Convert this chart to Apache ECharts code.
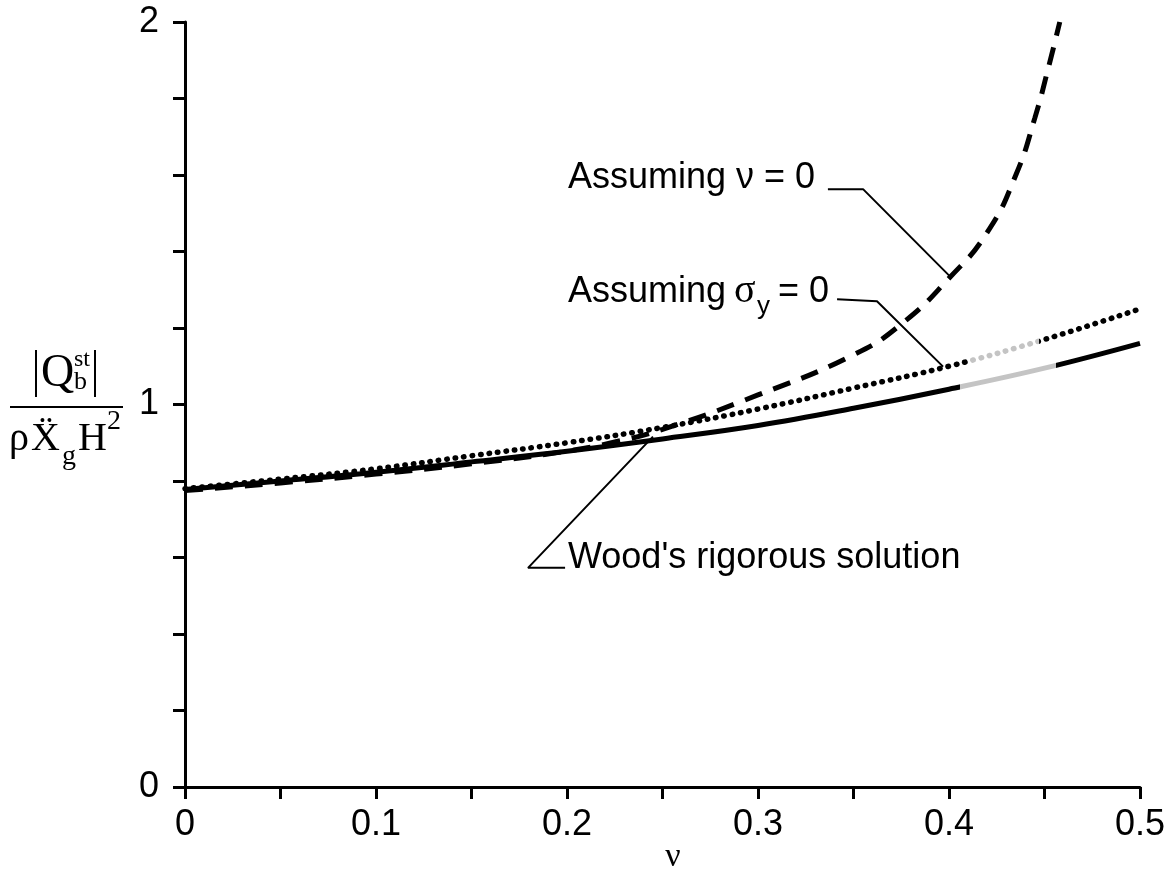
<!DOCTYPE html>
<html>
<head>
<meta charset="utf-8">
<title>Q_b^st vs nu</title>
<script src="https://cdn.jsdelivr.net/npm/echarts@6/dist/echarts.min.js"></script>
<style>
  html, body { margin: 0; background: #fff; }
  #chart { width: 1174px; height: 873px; }
</style>
</head>
<body>
<div id="chart"></div>
<script>
  // values
  var nuGrid = [0, 0.05, 0.1, 0.15, 0.2, 0.25, 0.3, 0.35, 0.4, 0.45, 0.5];
  var woodVals = [0.778, 0.800, 0.823, 0.850, 0.878, 0.910, 0.945, 0.990, 1.040, 1.095, 1.160];
  var sigmaVals = [0.780, 0.805, 0.832, 0.866, 0.900, 0.940, 0.988, 1.043, 1.100, 1.170, 1.250];

  var nuZeroX = [0, 0.05, 0.1, 0.15, 0.2, 0.225, 0.25, 0.3, 0.35, 0.375, 0.4, 0.42, 0.435, 0.445, 0.452, 0.458];
  var nuZeroVals = [0.775, 0.795, 0.818, 0.845, 0.878, 0.902, 0.935, 1.025, 1.130, 1.210, 1.330, 1.450, 1.600, 1.750, 1.880, 2.000];

  // leader lines of the labels (data units)
  var leaderNuZero = [[0.3366, 1.563], [0.355, 1.563], [0.4005, 1.335]];
  var leaderSigma = [[0.3414, 1.275], [0.3623, 1.270], [0.3969, 1.099]];
  var leaderWood = [[0.245, 0.916], [0.1796, 0.573], [0.199, 0.573]];

  function zip(xs, ys) {
    return xs.map(function (x, i) { return [x, ys[i]]; });
  }

  var sans = 'Liberation Sans, Arial, sans-serif';
  var serif = 'Liberation Serif, Times New Roman, serif';

  var chart = echarts.init(document.getElementById('chart'));

  var option = {
    animation: false,
    backgroundColor: '#fff',
    grid: { left: 185, right: 34, top: 22, bottom: 86, containLabel: false },
    xAxis: {
      type: 'value',
      min: 0,
      max: 0.5,
      interval: 0.05,
      splitLine: { show: false },
      axisLine: { lineStyle: { color: '#000', width: 3 } },
      axisTick: { length: 12, lineStyle: { color: '#000', width: 3 } },
      axisLabel: {
        color: '#000',
        fontFamily: sans,
        fontSize: 36,
        margin: 20,
        formatter: function (v) {
          return Math.abs(v * 10 - Math.round(v * 10)) < 1e-6 ? String(Math.round(v * 10) / 10) : '';
        }
      }
    },
    yAxis: {
      type: 'value',
      min: 0,
      max: 2,
      interval: 0.2,
      splitLine: { show: false },
      axisLine: { show: true, lineStyle: { color: '#000', width: 3 } },
      axisTick: { show: true, length: 12, lineStyle: { color: '#000', width: 3 } },
      axisLabel: {
        color: '#000',
        fontFamily: sans,
        fontSize: 36,
        margin: 26,
        formatter: function (v) {
          return Math.abs(v - Math.round(v)) < 1e-6 ? String(Math.round(v)) : '';
        }
      }
    },
    // the scanned original has washed-out stretches on two curves
    visualMap: [
      {
        show: false, type: 'piecewise', seriesIndex: 0, dimension: 0,
        pieces: [
          { lt: 0.406, color: '#000' },
          { gte: 0.406, lt: 0.456, color: '#c4c4c4' },
          { gte: 0.456, color: '#000' }
        ]
      },
      {
        show: false, type: 'piecewise', seriesIndex: 1, dimension: 0,
        pieces: [
          { lt: 0.41, color: '#000' },
          { gte: 0.41, lt: 0.447, color: '#c4c4c4' },
          { gte: 0.447, color: '#000' }
        ]
      }
    ],
    series: [
      {
        name: "Wood's rigorous solution",
        type: 'line',
        data: zip(nuGrid, woodVals),
        smooth: 0.4,
        showSymbol: false,
        lineStyle: { width: 5 }
      },
      {
        name: 'Assuming sigma_y = 0',
        type: 'line',
        data: zip(nuGrid, sigmaVals),
        smooth: 0.4,
        showSymbol: false,
        lineStyle: { width: 5.5, type: [0.5, 8], cap: 'round' }
      },
      {
        name: 'Assuming nu = 0',
        type: 'line',
        data: zip(nuZeroX, nuZeroVals),
        smooth: 0.5,
        showSymbol: false,
        lineStyle: { color: '#000', width: 5, type: [18, 12] }
      },
      {
        type: 'line', data: leaderNuZero, showSymbol: false, silent: true,
        lineStyle: { color: '#000', width: 2 }
      },
      {
        type: 'line', data: leaderSigma, showSymbol: false, silent: true,
        lineStyle: { color: '#000', width: 2 }
      },
      {
        type: 'line', data: leaderWood, showSymbol: false, silent: true,
        lineStyle: { color: '#000', width: 2 }
      }
    ],
    graphic: [
      // curve labels
      { type: 'text', left: 568, top: 160, style: { text: 'Assuming ν = 0', font: '36px ' + sans, fill: '#000' } },
      { type: 'text', x: 568, y: 292, style: { text: 'Assuming', font: '36px ' + sans, fill: '#000', verticalAlign: 'middle' } },
      { type: 'text', x: 734, y: 291, style: { text: 'σ', font: '40px ' + serif, fill: '#000', verticalAlign: 'middle' } },
      { type: 'text', x: 757, y: 307, style: { text: 'y', font: '26px ' + sans, fill: '#000', verticalAlign: 'middle' } },
      { type: 'text', x: 778, y: 292, style: { text: '= 0', font: '36px ' + sans, fill: '#000', verticalAlign: 'middle' } },
      { type: 'text', left: 568, top: 540, style: { text: "Wood's rigorous solution", font: '36px ' + sans, fill: '#000' } },

      // y axis name: |Q_b^st| / (rho X''_g H^2)
      { type: 'line', shape: { x1: 36, y1: 350, x2: 36, y2: 397 }, style: { stroke: '#000', lineWidth: 2 } },
      { type: 'line', shape: { x1: 95, y1: 350, x2: 95, y2: 397 }, style: { stroke: '#000', lineWidth: 2 } },
      { type: 'text', x: 41, y: 374, style: { text: 'Q', font: '46px ' + serif, fill: '#000', verticalAlign: 'middle' } },
      { type: 'text', x: 74, y: 360, style: { text: 'st', font: '24px ' + serif, fill: '#000', verticalAlign: 'middle' } },
      { type: 'text', x: 74, y: 382, style: { text: 'b', font: '26px ' + serif, fill: '#000', verticalAlign: 'middle' } },
      { type: 'line', shape: { x1: 10, y1: 407, x2: 123, y2: 407 }, style: { stroke: '#000', lineWidth: 2 } },
      { type: 'text', x: 9, y: 439, style: { text: 'ρ', font: '40px ' + serif, fill: '#000', verticalAlign: 'middle' } },
      { type: 'text', x: 31, y: 439, style: { text: 'Ẍ', font: '40px ' + serif, fill: '#000', verticalAlign: 'middle' } },
      { type: 'text', x: 62, y: 457, style: { text: 'g', font: '28px ' + serif, fill: '#000', verticalAlign: 'middle' } },
      { type: 'text', x: 78, y: 439, style: { text: 'H', font: '40px ' + serif, fill: '#000', verticalAlign: 'middle' } },
      { type: 'text', x: 107, y: 422, style: { text: '2', font: '28px ' + serif, fill: '#000', verticalAlign: 'middle' } },

      // x axis name
      { type: 'text', x: 673, y: 857, style: { text: 'ν', font: '34px ' + serif, fill: '#000', align: 'center', verticalAlign: 'middle' } }
    ]
  };

  chart.setOption(option);
  window.addEventListener('resize', function () { chart.resize(); });
</script>
</body>
</html>
